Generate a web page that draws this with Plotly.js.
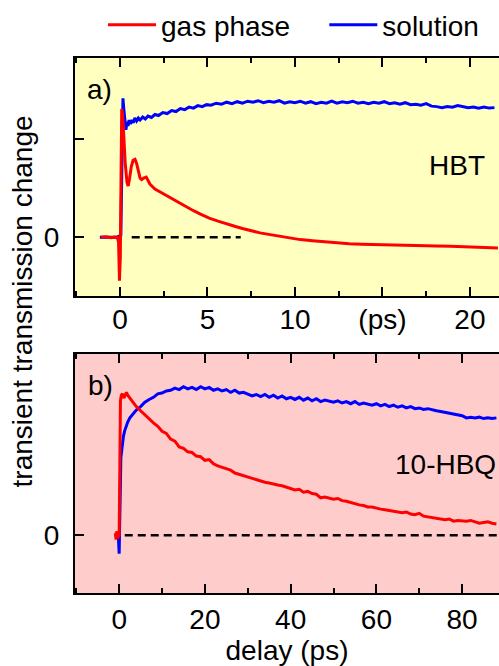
<!DOCTYPE html>
<html>
<head>
<meta charset="utf-8">
<script src="https://cdn.plot.ly/plotly-3.0.1.min.js"></script>
<style>html,body{margin:0;padding:0;background:#fff;}#chart{width:499px;height:666px;}</style>
</head>
<body>
<div id="chart"></div>
<script>
// ---- Panel a) HBT, delay in ps ----
const xTopGas = [-1.1,-0.8,-0.5,-0.3,-0.15,-0.08,-0.03,0.02,0.06,0.1,0.15,0.22,0.3,0.4,0.47,0.55,0.65,0.75,0.86,0.95,1.05,1.15,1.24,1.35,1.5,1.6,1.71,2.0,2.3,2.6,2.9,3.24,3.6,3.9,4.2,4.6,5.1,5.6,6.1,6.6,7.0,7.5,8.0,8.5,9.0,9.5,10.3,11.0,11.7,12.4,13.1,13.8,14.5,15.2,16.0,16.7,17.4,18.1,18.9,19.6,20.3,21.0,21.6];
const yTopGas = [0,0.005,-0.005,0.003,0,-0.05,-0.44,-0.2,0.6,1.3,1.25,1.0,0.75,0.56,0.52,0.6,0.72,0.78,0.79,0.75,0.66,0.6,0.585,0.6,0.61,0.58,0.54,0.49,0.46,0.43,0.395,0.36,0.325,0.295,0.27,0.235,0.195,0.165,0.135,0.11,0.09,0.065,0.045,0.03,0.015,0.0,-0.023,-0.035,-0.047,-0.056,-0.064,-0.069,-0.073,-0.077,-0.08,-0.083,-0.085,-0.088,-0.09,-0.095,-0.1,-0.105,-0.108];
const xTopSol = [-1.15,-0.6,-0.2,0.05,0.12,0.17,0.22,0.28,0.34,0.4,0.46,0.52,0.6,0.68,0.76,0.85,0.95,1.05,1.15,1.3,1.45,1.6,1.8,2.0,2.2,2.45,2.7,2.95,3.2,3.45,3.7,3.95,4.2,4.45,4.7,4.95,5.2,5.5,5.8,6.1,6.4,6.7,7.0,7.3,7.6,7.9,8.2,8.5,8.8,9.1,9.4,9.7,10.0,10.3,10.6,10.9,11.2,11.5,11.8,12.1,12.4,12.7,13.0,13.3,13.6,13.9,14.2,14.5,14.8,15.1,15.4,15.7,16.0,16.3,16.6,16.9,17.2,17.5,17.8,18.1,18.4,18.7,19.0,19.3,19.6,19.9,20.2,20.5,20.8,21.1,21.4];
const yTopSol = [0,0,0,0.02,0.9,1.41,1.3,1.2,1.09,1.17,1.13,1.19,1.15,1.19,1.16,1.21,1.18,1.21,1.19,1.22,1.2,1.23,1.215,1.245,1.235,1.265,1.255,1.285,1.275,1.305,1.295,1.32,1.31,1.335,1.325,1.345,1.34,1.36,1.35,1.37,1.355,1.375,1.36,1.38,1.37,1.385,1.365,1.38,1.37,1.385,1.36,1.375,1.365,1.38,1.36,1.375,1.355,1.37,1.36,1.38,1.36,1.375,1.365,1.38,1.36,1.37,1.355,1.37,1.36,1.375,1.355,1.365,1.35,1.365,1.345,1.35,1.34,1.355,1.33,1.325,1.315,1.325,1.32,1.335,1.325,1.315,1.32,1.31,1.32,1.31,1.315];
const xTopZero = [0.67, 6.9];
const yTopZero = [0, 0];
const topTickVals = [0, 5, 10, 15, 20];
const topTickText = ['0', '5', '10', '(ps)', '20'];

// ---- Panel b) 10-HBQ, delay in ps ----
const xBotGas = [-0.9,-0.7,-0.5,-0.6,-0.8,-0.4,-0.2,0,0.15,0.3,0.5,0.8,1.1,1.4,1.7,2.0,2.5,3,3.5,4,5,6,7,8,9,10,11,12,13,14,15,16,17,18,19,20,21,22,23,24,25,26,27,28,29,30,31,32,33,34,35,36,37,38,39,40,41,42,43,44,45,46,47,48,49,50,51,52,53,54,55,56,57,58,59,60,61,62,63,64,65,66,67,68,69,70,71,72,73,74,75,76,77,78,79,80,81,82,83,84,85,86,87,88];
const yBotGas = [0.01,-0.03,0.03,-0.02,0.02,0,-0.01,0,0.5,0.95,0.99,1.0,0.97,0.995,1.01,0.99,0.97,0.95,0.93,0.91,0.88,0.85,0.82,0.795,0.77,0.735,0.72,0.68,0.665,0.625,0.615,0.59,0.585,0.56,0.555,0.53,0.535,0.505,0.49,0.48,0.465,0.46,0.44,0.43,0.425,0.41,0.405,0.39,0.385,0.375,0.37,0.36,0.355,0.35,0.34,0.335,0.32,0.325,0.305,0.31,0.295,0.29,0.265,0.27,0.265,0.255,0.26,0.245,0.24,0.23,0.225,0.215,0.21,0.2,0.2,0.19,0.185,0.18,0.175,0.17,0.165,0.16,0.165,0.15,0.145,0.155,0.135,0.13,0.125,0.12,0.12,0.11,0.115,0.1,0.105,0.1,0.1,0.105,0.095,0.085,0.09,0.095,0.085,0.08];
const xBotSol = [-0.5,-0.2,0,0.15,0.3,0.4,0.6,0.8,1.0,1.3,1.6,2.0,2.5,3,3.5,4,5,6,7,8,9,10,11,12,13,14,15,16,17,18,19,20,21,22,23,24,25,26,27,28,29,30,31,32,33,34,35,36,37,38,39,40,41,42,43,44,45,46,47,48,49,50,51,52,53,54,55,56,57,58,59,60,61,62,63,64,65,66,67,68,69,70,71,72,73,74,75,76,77,78,79,80,81,82,83,84,85,86,87,88];
const yBotSol = [0,0,-0.13,0.2,0.5,0.55,0.6,0.66,0.7,0.74,0.77,0.8,0.83,0.85,0.87,0.885,0.91,0.94,0.96,0.975,1.0,1.005,1.02,1.025,1.04,1.03,1.05,1.035,1.045,1.03,1.05,1.035,1.045,1.025,1.035,1.02,1.03,1.01,1.025,1.005,1.01,1.0,0.985,0.995,0.98,0.995,0.975,0.99,0.97,0.985,0.965,0.975,0.96,0.975,0.955,0.97,0.95,0.965,0.945,0.955,0.95,0.94,0.95,0.935,0.945,0.93,0.945,0.925,0.935,0.93,0.92,0.93,0.915,0.925,0.91,0.92,0.905,0.915,0.9,0.91,0.895,0.9,0.89,0.895,0.885,0.88,0.875,0.87,0.865,0.86,0.85,0.845,0.83,0.835,0.83,0.835,0.825,0.83,0.825,0.83];
const xBotZero = [1.3, 90];
const yBotZero = [0, 0];
const botTickVals = [0, 20, 40, 60, 80];

const seriesNames = ['gas phase', 'solution'];
const RED = '#ff0000', BLUE = '#0000ff';
const FONT = 'Liberation Sans, Arial, sans-serif';

const traces = [
  {x: xTopSol, y: yTopSol, xaxis: 'x', yaxis: 'y', mode: 'lines', name: seriesNames[1], legend: 'legend2',
   line: {color: BLUE, width: 3}},
  {x: xTopGas, y: yTopGas, xaxis: 'x', yaxis: 'y', mode: 'lines', name: seriesNames[0], legend: 'legend',
   line: {color: RED, width: 3}},
  {x: xTopZero, y: yTopZero, xaxis: 'x', yaxis: 'y', mode: 'lines', showlegend: false,
   line: {color: '#000', width: 2.5, dash: '8px,5px'}},
  {x: xBotSol, y: yBotSol, xaxis: 'x2', yaxis: 'y2', mode: 'lines', showlegend: false,
   line: {color: BLUE, width: 3}},
  {x: xBotGas, y: yBotGas, xaxis: 'x2', yaxis: 'y2', mode: 'lines', showlegend: false,
   line: {color: RED, width: 3}},
  {x: xBotZero, y: yBotZero, xaxis: 'x2', yaxis: 'y2', mode: 'lines', showlegend: false,
   line: {color: '#000', width: 2.5, dash: '8px,5px'}}
];

const axCommon = {showline: true, linecolor: '#000', linewidth: 2, ticks: 'inside', ticklen: 9,
  tickwidth: 2, tickcolor: '#000', showgrid: false, zeroline: false,
  tickfont: {family: FONT, size: 28, color: '#000'}};

const legendCommon = {orientation: 'h', xanchor: 'left', y: 1.062, yanchor: 'middle',
  font: {family: FONT, size: 28, color: '#000'}, bgcolor: 'rgba(0,0,0,0)', borderwidth: 0,
  itemwidth: 48};

const layout = {
  width: 499, height: 666,
  margin: {l: 75, r: 0, t: 56, b: 73},
  paper_bgcolor: '#fff',
  font: {family: FONT, size: 28, color: '#000'},
  showlegend: true,
  legend: Object.assign({}, legendCommon, {x: 0.066}),
  legend2: Object.assign({}, legendCommon, {x: 0.588}),
  xaxis: Object.assign({}, axCommon, {domain: [0, 1], anchor: 'y', range: [-2.57, 21.66],
    mirror: 'ticks', tickmode: 'array', tickvals: topTickVals, ticktext: topTickText,
    ticklabelstandoff: -3,
    minor: {dtick: 2.5, tick0: 0, ticks: 'inside', ticklen: 5, tickwidth: 2, tickcolor: '#000'}}),
  yaxis: Object.assign({}, axCommon, {domain: [0.5549, 1], anchor: 'x', range: [-0.596, 1.818],
    tickmode: 'array', tickvals: [0, 1], ticktext: ['0', ''], ticklabelstandoff: 8}),
  xaxis2: Object.assign({}, axCommon, {domain: [0, 1], anchor: 'y2', range: [-10.3, 88.6],
    mirror: 'ticks', tickmode: 'array', tickvals: botTickVals,
    minor: {dtick: 10, tick0: 0, ticks: 'inside', ticklen: 5, tickwidth: 2, tickcolor: '#000'},
    title: {text: 'delay (ps)', font: {family: FONT, size: 28, color: '#000'}, standoff: 4}}),
  yaxis2: Object.assign({}, axCommon, {domain: [0, 0.4469], anchor: 'x2', range: [-0.408, 1.282],
    tickmode: 'array', tickvals: [0], ticktext: ['0'], ticklabelstandoff: 8}),
  shapes: [
    {type: 'rect', xref: 'x domain', yref: 'y domain', x0: 0, x1: 1, y0: 0, y1: 1,
     fillcolor: '#ffffc0', line: {width: 0}, layer: 'below'},
    {type: 'rect', xref: 'x2 domain', yref: 'y2 domain', x0: 0, x1: 1, y0: 0, y1: 1,
     fillcolor: '#ffcccc', line: {width: 0}, layer: 'below'}
  ],
  annotations: [
    {text: 'transient transmission change', xref: 'paper', yref: 'paper', x: -0.125, y: 0.545,
     textangle: -90, showarrow: false, xanchor: 'center', yanchor: 'middle',
     font: {family: FONT, size: 28, color: '#000'}},
    {text: 'a)', xref: 'x', yref: 'y', x: -1.98, y: 1.495, xanchor: 'left', yanchor: 'middle',
     showarrow: false, font: {family: FONT, size: 28, color: '#000'}},
    {text: 'HBT', xref: 'x', yref: 'y', x: 21.0, y: 0.727, xanchor: 'right', yanchor: 'middle',
     showarrow: false, font: {family: FONT, size: 28, color: '#000'}},
    {text: 'b)', xref: 'x2', yref: 'y2', x: -7.8, y: 1.056, xanchor: 'left', yanchor: 'middle',
     showarrow: false, font: {family: FONT, size: 28, color: '#000'}},
    {text: '10-HBQ', xref: 'x2', yref: 'y2', x: 88.3, y: 0.5, xanchor: 'right', yanchor: 'middle',
     showarrow: false, font: {family: FONT, size: 28, color: '#000'}}
  ]
};

Plotly.newPlot('chart', traces, layout, {displayModeBar: false, staticPlot: true});
</script>
</body>
</html>
